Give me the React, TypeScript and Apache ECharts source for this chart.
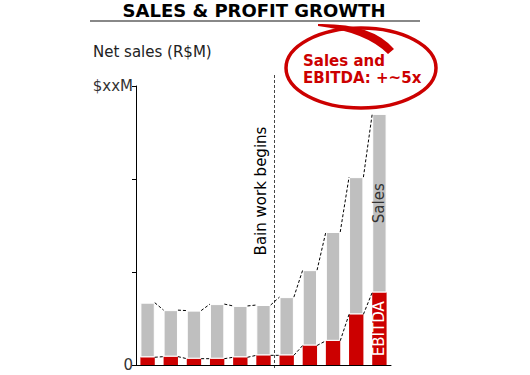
import React, { useEffect, useRef } from "react";
import * as echarts from "echarts";

const categories = ["P1", "P2", "P3", "P4", "P5", "P6", "P7", "P8", "P9", "P10", "P11"];
const sales = [0.67, 0.59, 0.585, 0.655, 0.635, 0.645, 0.73, 1.02, 1.43, 2.02, 2.7];
const ebitda = [0.083, 0.09, 0.068, 0.068, 0.083, 0.104, 0.104, 0.21, 0.26, 0.545, 0.78];
const yTickLabels: Record<number, string> = { 0: "0", 3: "$xxM" };

const FONT = "DejaVu Sans, Verdana, sans-serif";
const RED = "#cc0000";
const GRAY = "#bfbfbf";

let registered = false;
function registerShapes() {
  if (registered) return;
  registered = true;
  const tail = echarts.graphic.extendPath(
    "M318,24 Q372,23 394,49 L388,54 Q366,32 318,26 Z",
    {}
  );
  echarts.graphic.registerShape("tail", tail);
}

export default function App() {
  const ref = useRef<HTMLDivElement>(null);
  useEffect(() => {
    if (!ref.current) return;
    registerShapes();
    const chart = echarts.init(ref.current, undefined, { renderer: "svg" });
    const rest = sales.map((s, i) => +(s - ebitda[i]).toFixed(4));
    const connectorData = (vals: number[]) =>
      vals.slice(0, -1).map((v, i) => [i, v, vals[i + 1]]);

    const connectorSeries = (name: string, vals: number[]) => ({
      type: "custom",
      name,
      silent: true,
      z: 5,
      data: connectorData(vals),
      renderItem: (params: any, api: any) => {
        const i = api.value(0);
        const p1 = api.coord([i, api.value(1)]);
        const p2 = api.coord([i + 1, api.value(2)]);
        const half = api.size([1, 0])[0] * 0.31;
        return {
          type: "line",
          shape: { x1: p1[0] + half, y1: p1[1], x2: p2[0] - half, y2: p2[1] },
          style: { stroke: "#000", lineWidth: 1, lineDash: [3, 2] },
        };
      },
    });

    chart.setOption({
      animation: false,
      grid: { left: 136, right: 139, top: 86, bottom: 10, containLabel: false },
      xAxis: {
        type: "category",
        data: categories,
        axisLine: { show: true, lineStyle: { color: "#000", width: 1 } },
        axisTick: { show: false },
        axisLabel: { show: false },
      },
      yAxis: {
        type: "value",
        min: 0,
        max: 3,
        interval: 1,
        splitLine: { show: false },
        axisLine: { show: true, lineStyle: { color: "#000", width: 1 } },
        axisTick: { show: true, length: 4, lineStyle: { color: "#000" } },
        axisLabel: {
          color: "#333",
          fontSize: 15,
          fontFamily: FONT,
          margin: 3,
          formatter: (v: number) => yTickLabels[v] ?? "",
        },
      },
      series: [
        {
          type: "bar",
          name: "EBITDA",
          stack: "s",
          barWidth: "62%",
          itemStyle: { color: RED },
          data: ebitda.map((v, i) =>
            i === ebitda.length - 1
              ? {
                  value: v,
                  label: {
                    show: true,
                    position: "inside",
                    rotate: 90,
                    formatter: "EBITDA",
                    color: "#fff",
                    fontSize: 15,
                    fontFamily: FONT,
                  },
                }
              : v
          ),
        },
        {
          type: "bar",
          name: "Sales",
          stack: "s",
          barWidth: "62%",
          itemStyle: { color: GRAY, borderColor: "#fff", borderWidth: 1 },
          data: rest.map((v, i) =>
            i === rest.length - 1
              ? {
                  value: v,
                  label: {
                    show: true,
                    position: "inside",
                    rotate: 90,
                    formatter: "Sales",
                    color: "#333",
                    fontSize: 15,
                    fontFamily: FONT,
                  },
                }
              : v
          ),
        },
        connectorSeries("salesLine", sales),
        connectorSeries("ebitdaLine", ebitda),
      ],
      graphic: [
        {
          type: "text",
          x: 254,
          y: 10,
          style: {
            text: "SALES & PROFIT GROWTH",
            fontFamily: FONT,
            fontWeight: "bold",
            fontSize: 18,
            fill: "#000",
            align: "center",
            verticalAlign: "middle",
          },
        },
        {
          type: "line",
          shape: { x1: 90, y1: 21, x2: 420, y2: 21 },
          style: { stroke: "#888", lineWidth: 2 },
        },
        {
          type: "text",
          x: 93,
          y: 52,
          style: {
            text: "Net sales (R$M)",
            fontFamily: FONT,
            fontSize: 15,
            fill: "#222",
            align: "left",
            verticalAlign: "middle",
          },
        },
        {
          type: "line",
          shape: { x1: 274.5, y1: 75, x2: 274.5, y2: 368 },
          style: { stroke: "#444", lineWidth: 1, lineDash: [3, 2] },
        },
        {
          type: "text",
          x: 261,
          y: 191,
          rotation: Math.PI / 2,
          style: {
            text: "Bain work begins",
            fontFamily: FONT,
            fontSize: 15,
            fill: "#000",
            align: "center",
            verticalAlign: "middle",
          },
        },
        {
          type: "ellipse",
          shape: { cx: 361, cy: 68, rx: 75, ry: 40 },
          style: { fill: "none", stroke: RED, lineWidth: 3.5 },
        },
        {
          type: "tail",
          x: 0,
          y: 0,
          style: { fill: RED },
        },
        {
          type: "text",
          x: 303,
          y: 61,
          style: {
            text: "Sales and",
            fontFamily: FONT,
            fontWeight: "bold",
            fontSize: 15,
            fill: RED,
            align: "left",
            verticalAlign: "middle",
          },
        },
        {
          type: "text",
          x: 303,
          y: 78,
          style: {
            text: "EBITDA: +~5x",
            fontFamily: FONT,
            fontWeight: "bold",
            fontSize: 15,
            fill: RED,
            align: "left",
            verticalAlign: "middle",
          },
        },
      ],
    });
    return () => chart.dispose();
  }, []);
  return (
    <div
      ref={ref}
      style={{ position: "fixed", left: 0, top: 0, width: 530, height: 375, background: "#fff" }}
    />
  );
}
